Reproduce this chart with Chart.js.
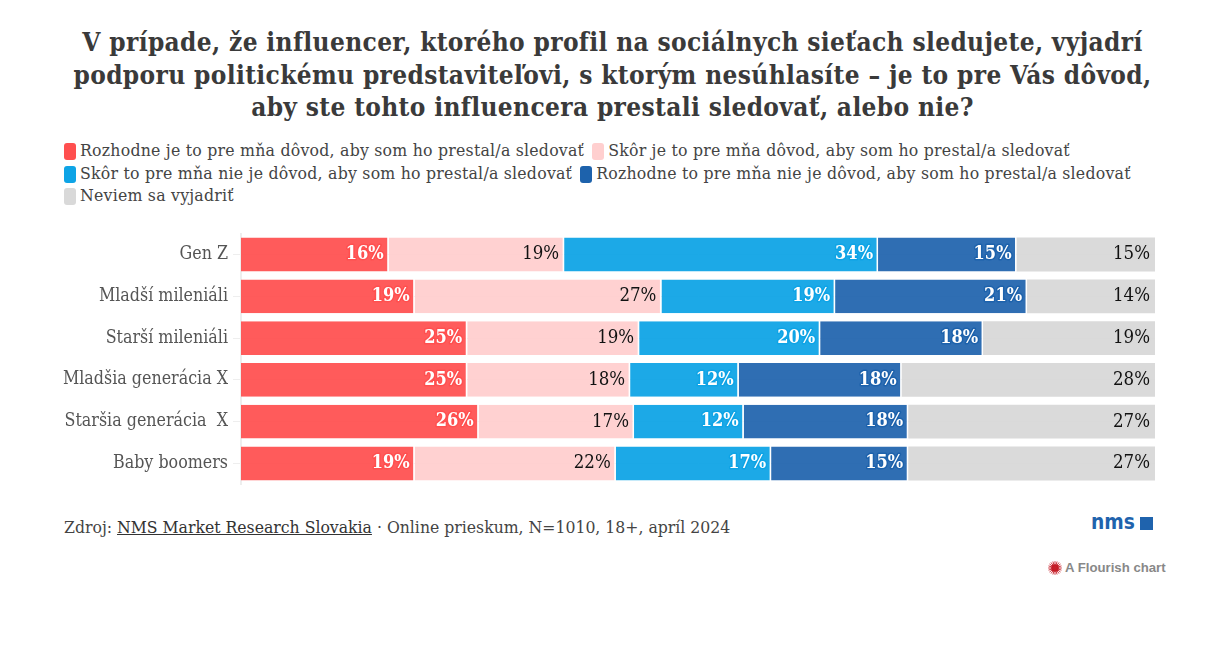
<!DOCTYPE html>
<html lang="sk">
<head>
<meta charset="utf-8">
<title>Influencer a politická podpora</title>
<script src="https://cdn.jsdelivr.net/npm/chart.js@4"></script>
<style>
  html, body { margin: 0; padding: 0; background: #fff; }
  body { width: 1209px; height: 648px; position: relative; overflow: hidden;
         font-family: "DejaVu Serif Condensed", "DejaVu Serif", serif; color: #444; }
  h1 { position: absolute; left: 8px; top: 26px; width: 1209px; margin: 0; text-align: center;
       font-size: 26px; letter-spacing: 0.35px; line-height: 32.5px; font-weight: 700; color: #3a3a3a; }
  #legend { position: absolute; left: 64px; top: 139px; width: 1130px; font-size: 17.5px; letter-spacing: 0.23px; line-height: 22.5px; color: #444; }
  #legend .row { height: 22.5px; white-space: nowrap; }
  #legend .item { display: inline-block; margin-right: 8px; }
  #legend i { display: inline-block; width: 12px; height: 17px; border-radius: 3px; margin-right: 4px; vertical-align: -4px; }
  #wrap { position: absolute; left: 0; top: 218px; width: 1209px; height: 282px; }
  #source { position: absolute; left: 64px; top: 516px; font-size: 17.45px; line-height: 22px; color: #444; white-space: nowrap; }
  #source u { color: #333; }
  #logoText { position: absolute; left: 1091px; top: 507px; color: #1f63ad; transform: scaleX(0.85); transform-origin: left top;
              font: 700 22px/30px "DejaVu Sans", sans-serif; white-space: nowrap; }
  #logoMark { position: absolute; left: 1140px; top: 517px; width: 13px; height: 13px; background: #1f63ad; }
  #badge { position: absolute; left: 1048px; top: 560px; height: 16px; color: #888;
           font: 700 13.2px/16px "Liberation Sans", Arial, sans-serif; white-space: nowrap; }
  #badge svg { vertical-align: -3px; margin-right: 3px; }
</style>
</head>
<body>
<h1>V prípade, že influencer, ktorého profil na sociálnych sieťach sledujete, vyjadrí<br>podporu politickému predstaviteľovi, s ktorým nesúhlasíte – je to pre Vás dôvod,<br>aby ste tohto influencera prestali sledovať, alebo nie?</h1>
<div id="legend"></div>
<div id="wrap"><canvas id="chart" width="1209" height="282"></canvas></div>
<div id="source">Zdroj: <u>NMS Market Research Slovakia</u> · Online prieskum, N=1010, 18+, apríl 2024</div>
<div id="logoText">nms</div><div id="logoMark"></div>
<div id="badge"><svg width="14" height="14" viewBox="-7 -7 14 14"><circle r="3.8" fill="#b5121b"/><path id="rays" stroke="#c8202a" stroke-width="0.9" fill="none"/></svg>A Flourish chart</div>
<script>
// Generations shown as rows of the stacked bar
const generations = ["Gen Z", "Mladší mileniáli", "Starší mileniáli", "Mladšia generácia X", "Staršia generácia  X", "Baby boomers"];

// Answer labels
const answers = [
  "Rozhodne je to pre mňa dôvod, aby som ho prestal/a sledovať",
  "Skôr je to pre mňa dôvod, aby som ho prestal/a sledovať",
  "Skôr to pre mňa nie je dôvod, aby som ho prestal/a sledovať",
  "Rozhodne to pre mňa nie je dôvod, aby som ho prestal/a sledovať",
  "Neviem sa vyjadriť"
];

// Percentages per answer, one value per generation
const definitelyYes = [16, 19, 25, 25, 26, 19];
const ratherYes     = [19, 27, 19, 18, 17, 22];
const ratherNo      = [34, 19, 20, 12, 12, 17];
const definitelyNo  = [15, 21, 18, 18, 18, 15];
const dontKnow      = [15, 14, 19, 28, 27, 27];

const answerValues = [definitelyYes, ratherYes, ratherNo, definitelyNo, dontKnow];

// Palette
const swatchColors = ["#ff4f4f", "#ffcfcf", "#0ea4e6", "#1d62ac", "#d9d9d9"];
const barColors    = ["rgba(255,77,77,0.92)", "rgba(255,205,205,0.92)", "rgba(14,164,230,0.94)", "rgba(29,98,172,0.92)", "rgba(215,215,215,0.92)"];
const labelColors  = ["#fff", "#111", "#fff", "#fff", "#111"];
const haloColors   = ["#ff4f4f", "#fdd2d2", "#0ea4e6", "#1d62ac", "#d9d9d9"];

// Legend rows as HTML, wrapped after every second answer
const legendEl = document.getElementById("legend");
[[0, 1], [2, 3], [4]].forEach(group => {
  const row = document.createElement("div");
  row.className = "row";
  group.forEach(i => {
    const item = document.createElement("span");
    item.className = "item";
    const sw = document.createElement("i");
    sw.style.background = swatchColors[i];
    item.appendChild(sw);
    item.appendChild(document.createTextNode(answers[i]));
    row.appendChild(item);
  });
  legendEl.appendChild(row);
});

// Starburst of the footer badge
let rays = "";
for (let a = 0; a < 20; a++) {
  const t = a * Math.PI / 10;
  rays += "M0 0L" + (6.8 * Math.cos(t)).toFixed(2) + " " + (6.8 * Math.sin(t)).toFixed(2);
}
document.getElementById("rays").setAttribute("d", rays);

// Each row fills the full width: values are shown as shares of the row's own sum
const rowTotals = generations.map((_, r) => answerValues.reduce((sum, s) => sum + s[r], 0));

// Value labels, right-aligned inside every segment with a halo in the segment colour
const valueLabels = {
  id: "valueLabels",
  afterDatasetsDraw(chart) {
    const ctx = chart.ctx;
    ctx.save();
    ctx.textAlign = "right";
    ctx.textBaseline = "middle";
    ctx.lineJoin = "round";
    chart.data.datasets.forEach((ds, d) => {
      const white = labelColors[d] === "#fff";
      ctx.font = (white ? "700 18px" : "400 18.5px") + " 'DejaVu Serif Condensed', 'DejaVu Serif', serif";
      chart.getDatasetMeta(d).data.forEach((bar, r) => {
        const text = answerValues[d][r] + "%";
        ctx.lineWidth = 3;
        ctx.strokeStyle = haloColors[d];
        ctx.strokeText(text, bar.x - 5, bar.y);
        ctx.fillStyle = labelColors[d];
        ctx.fillText(text, bar.x - 5, bar.y);
      });
    });
    ctx.restore();
  }
};

new Chart(document.getElementById("chart"), {
  type: "bar",
  data: {
    labels: generations,
    datasets: answers.map((name, d) => ({
      label: name,
      data: answerValues[d].map((v, r) => v / rowTotals[r] * 100),
      backgroundColor: barColors[d],
      borderColor: "#fff",
      borderWidth: { right: d < 4 ? 1.5 : 0 },
      borderSkipped: false,
      barPercentage: 34 / 42,
      categoryPercentage: 1
    }))
  },
  options: {
    indexAxis: "y",
    responsive: false,
    animation: false,
    layout: { padding: { top: 8, bottom: 8, right: 54, left: 0 } },
    plugins: { legend: { display: false }, title: { display: false }, tooltip: { enabled: false } },
    scales: {
      x: { stacked: true, min: 0, max: 100, display: false },
      y: {
        stacked: true,
        afterFit(scale) { scale.width = 241; },
        grid: { offset: false, color: "#eeeeee", lineWidth: 1, tickLength: 8, drawTicks: true },
        border: { color: "#eeeeee", width: 2 },
        ticks: {
          padding: 5,
          color: "#555",
          font: { family: "'DejaVu Serif Condensed', 'DejaVu Serif', serif", size: 17.7 }
        }
      }
    }
  },
  plugins: [valueLabels]
});
</script>
</body>
</html>
